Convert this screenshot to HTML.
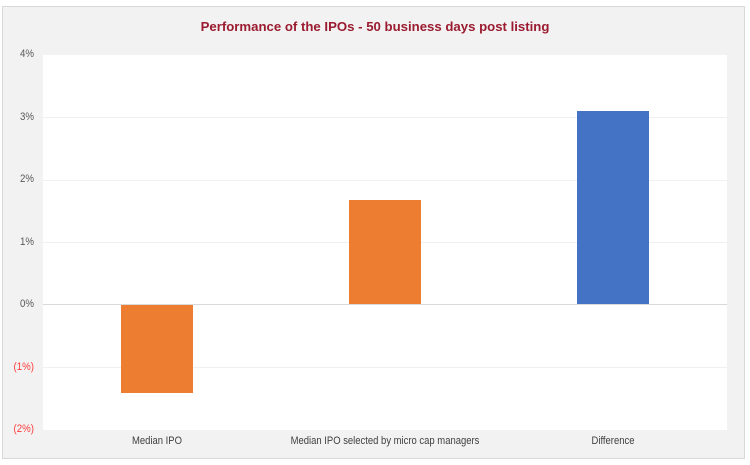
<!DOCTYPE html><html><head><style>
body{margin:0;width:750px;height:465px;background:#fff;position:relative;font-family:"Liberation Sans",Arial,sans-serif;overflow:hidden}
.o{position:absolute;left:2px;top:6px;width:741px;height:451px;background:#f2f2f2;border:1px solid #d9d9d9}
.p{position:absolute;left:43px;top:55px;width:684px;height:375px;background:#fff}
.g{position:absolute;left:43px;width:684px;height:1px;background:#f0f0f0}
.t{position:absolute;width:34px;left:0;text-align:right;font-size:11px;color:#595959;transform:scaleX(0.88);transform-origin:right}
.r{color:#ff3b3b}
.b{position:absolute;width:72px}
.x{position:absolute;top:435px;font-size:11px;color:#404040;text-align:center;width:300px;transform:scaleX(0.86)}
</style></head><body>
<div class="o"></div><div class="p"></div>
<div class="g" style="top:117px"></div><div class="g" style="top:180px"></div><div class="g" style="top:242px"></div><div class="g" style="top:367px"></div>
<div class="g" style="top:304px;background:#d9d9d9"></div>
<div class="t" style="top:48px">4%</div><div class="t" style="top:111px">3%</div><div class="t" style="top:173px">2%</div><div class="t" style="top:236px">1%</div><div class="t" style="top:298px">0%</div><div class="t r" style="top:361px">(1%)</div><div class="t r" style="top:423px">(2%)</div>
<div class="b" style="left:121px;top:305px;height:88px;background:#ed7d31"></div>
<div class="b" style="left:349px;top:200px;height:104px;background:#ed7d31"></div>
<div class="b" style="left:577px;top:111px;height:193px;background:#4472c4"></div>
<div class="x" style="left:7px">Median IPO</div>
<div class="x" style="left:235px">Median IPO selected by micro cap managers</div>
<div class="x" style="left:463px">Difference</div>
<div style="position:absolute;top:19px;left:0;width:750px;text-align:center;font-size:13.2px;font-weight:bold;color:#9b1b30">Performance of the IPOs - 50 business days post listing</div>
</body></html>
